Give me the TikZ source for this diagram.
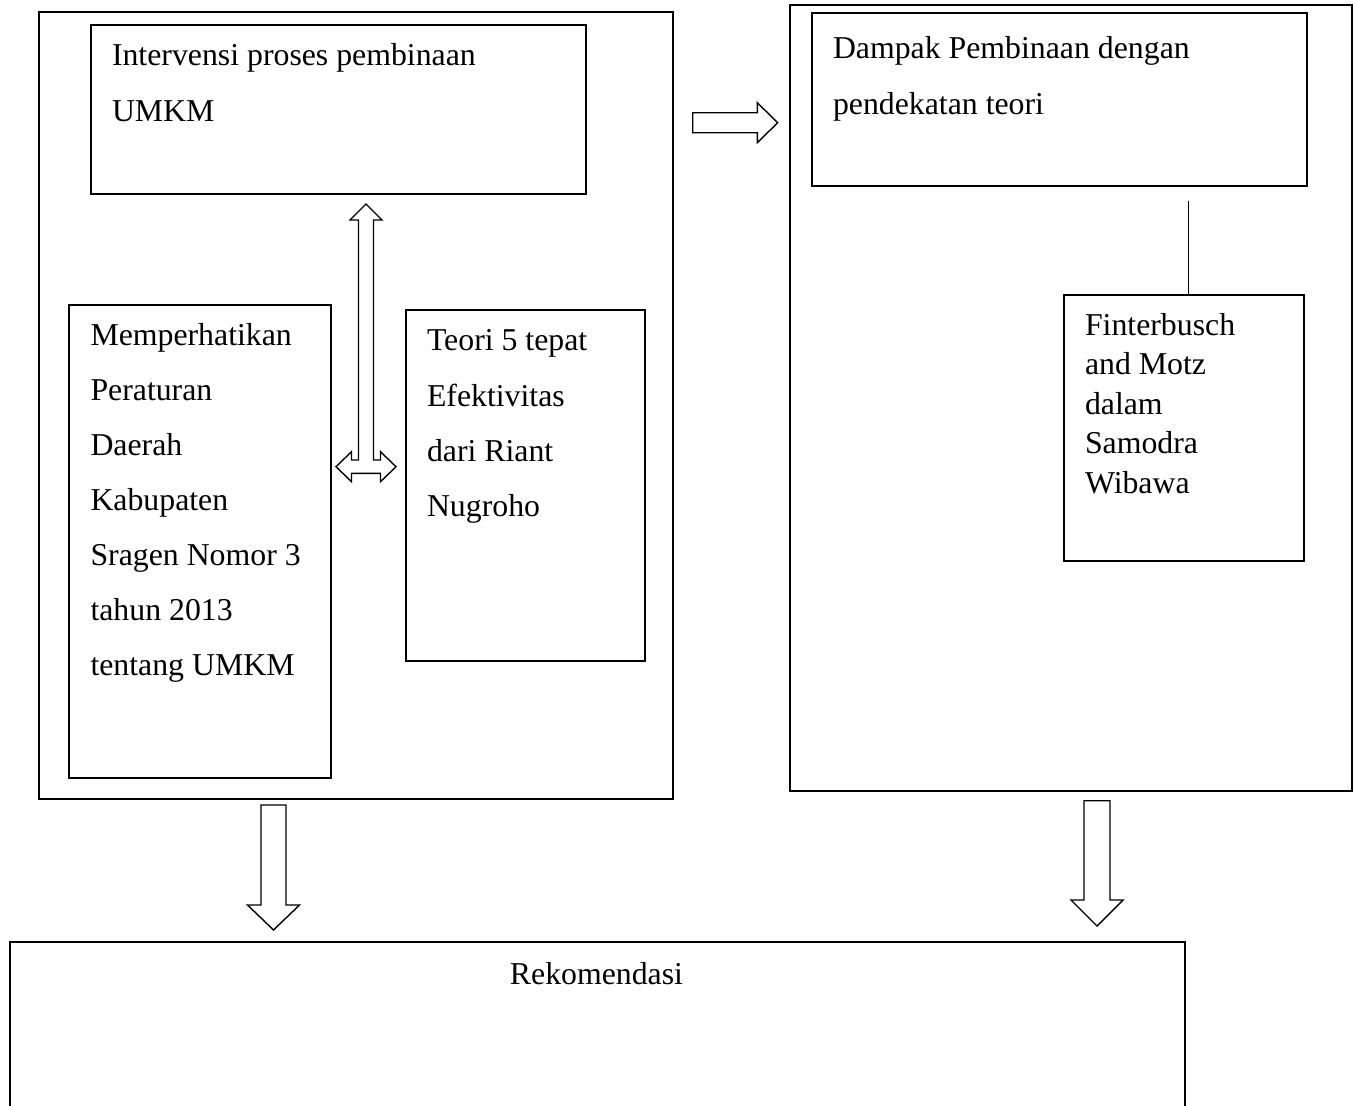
\documentclass[tikz,border=0pt]{standalone}
\usepackage{fontspec}
\setmainfont{Liberation Serif}
\begin{document}
\begin{tikzpicture}[x=1pt,y=-1pt,line width=1.4pt,
  box/.style={draw, rectangle, anchor=north west, inner sep=0pt, outer sep=0pt},
  txt/.style={anchor=base west, inner sep=0pt, outer sep=0pt},
  blockarrow/.style={draw, fill=white, line join=miter}]
\useasboundingbox (0,0) rectangle (1353,1106);
\clip (0,0) rectangle (1353,1106);
% outer boxes
\node[box, minimum width=634pt, minimum height=787pt] (leftouter) at (39,12) {};
\node[box, minimum width=562pt, minimum height=786pt] (rightouter) at (790,5) {};
% inner boxes
\node[box, minimum width=495pt, minimum height=169pt] (interv) at (91,25) {};
\node[box, minimum width=262pt, minimum height=473pt] (perda) at (69,305) {};
\node[box, minimum width=239pt, minimum height=351pt] (teori) at (406,310) {};
\node[box, minimum width=495pt, minimum height=173pt] (dampak) at (812,13) {};
\node[box, minimum width=240pt, minimum height=266pt] (finter) at (1064,295) {};
\node[box, minimum width=1175pt, minimum height=200pt] (rekom) at (10,942) {};
% texts
\node[txt] (tinterv) at (112,65.7) {\parbox[t]{480pt}{\raggedright\fontsize{31.8}{55.3}\selectfont Intervensi proses pembinaan\\UMKM}};
\node[txt] (tperda) at (90.5,345.7) {\parbox[t]{240pt}{\raggedright\fontsize{31.8}{55}\selectfont Memperhatikan\\Peraturan\\Daerah\\Kabupaten\\Sragen Nomor 3\\tahun 2013\\tentang UMKM}};
\node[txt] (tteori) at (427,350.7) {\parbox[t]{220pt}{\raggedright\fontsize{31.8}{55.3}\selectfont Teori 5 tepat\\Efektivitas\\dari Riant\\Nugroho}};
\node[txt] (tdampak) at (833,58.7) {\parbox[t]{480pt}{\raggedright\fontsize{31.8}{56}\selectfont Dampak Pembinaan dengan\\pendekatan teori}};
\node[txt] (tfinter) at (1085,335) {\parbox[t]{220pt}{\raggedright\fontsize{31.8}{39.6}\selectfont Finterbusch\\and Motz\\dalam\\Samodra\\Wibawa}};
\node[anchor=base, inner sep=0pt] (trekom) at (596.5,984) {\fontsize{31.8}{38}\selectfont Rekomendasi};
% connector line
\coordinate (lineTop) at (1188.5,200.5);
\draw (lineTop) -- (lineTop |- finter.north) ++(0,-7pt);
% right block arrow
\draw[blockarrow] (692.7,112.7) -- (757.3,112.7) -- (757.3,102.7) -- (777.7,122.7)
  -- (757.3,142.7) -- (757.3,132.7) -- (692.7,132.7) -- cycle;
% double arrow (vertical + horizontal)
\draw[blockarrow] (336,466.7) -- (351.5,451.7) -- (351.5,460) -- (358.5,460) -- (358.5,220)
  -- (350,220) -- (366,204) -- (382,220) -- (373.5,220) -- (373.5,460) -- (380.5,460)
  -- (380.5,451.7) -- (396,466.7) -- (380.5,481.7) -- (380.5,473.3) -- (351.5,473.3)
  -- (351.5,481.7) -- cycle;
% down arrows
\draw[blockarrow] (261,805) -- (286,805) -- (286,905) -- (299.5,905) -- (273.5,930)
  -- (247.5,905) -- (261,905) -- cycle;
\draw[blockarrow] (1084,800.7) -- (1110,800.7) -- (1110,900) -- (1123,900) -- (1097,926)
  -- (1071,900) -- (1084,900) -- cycle;
\end{tikzpicture}
\end{document}
